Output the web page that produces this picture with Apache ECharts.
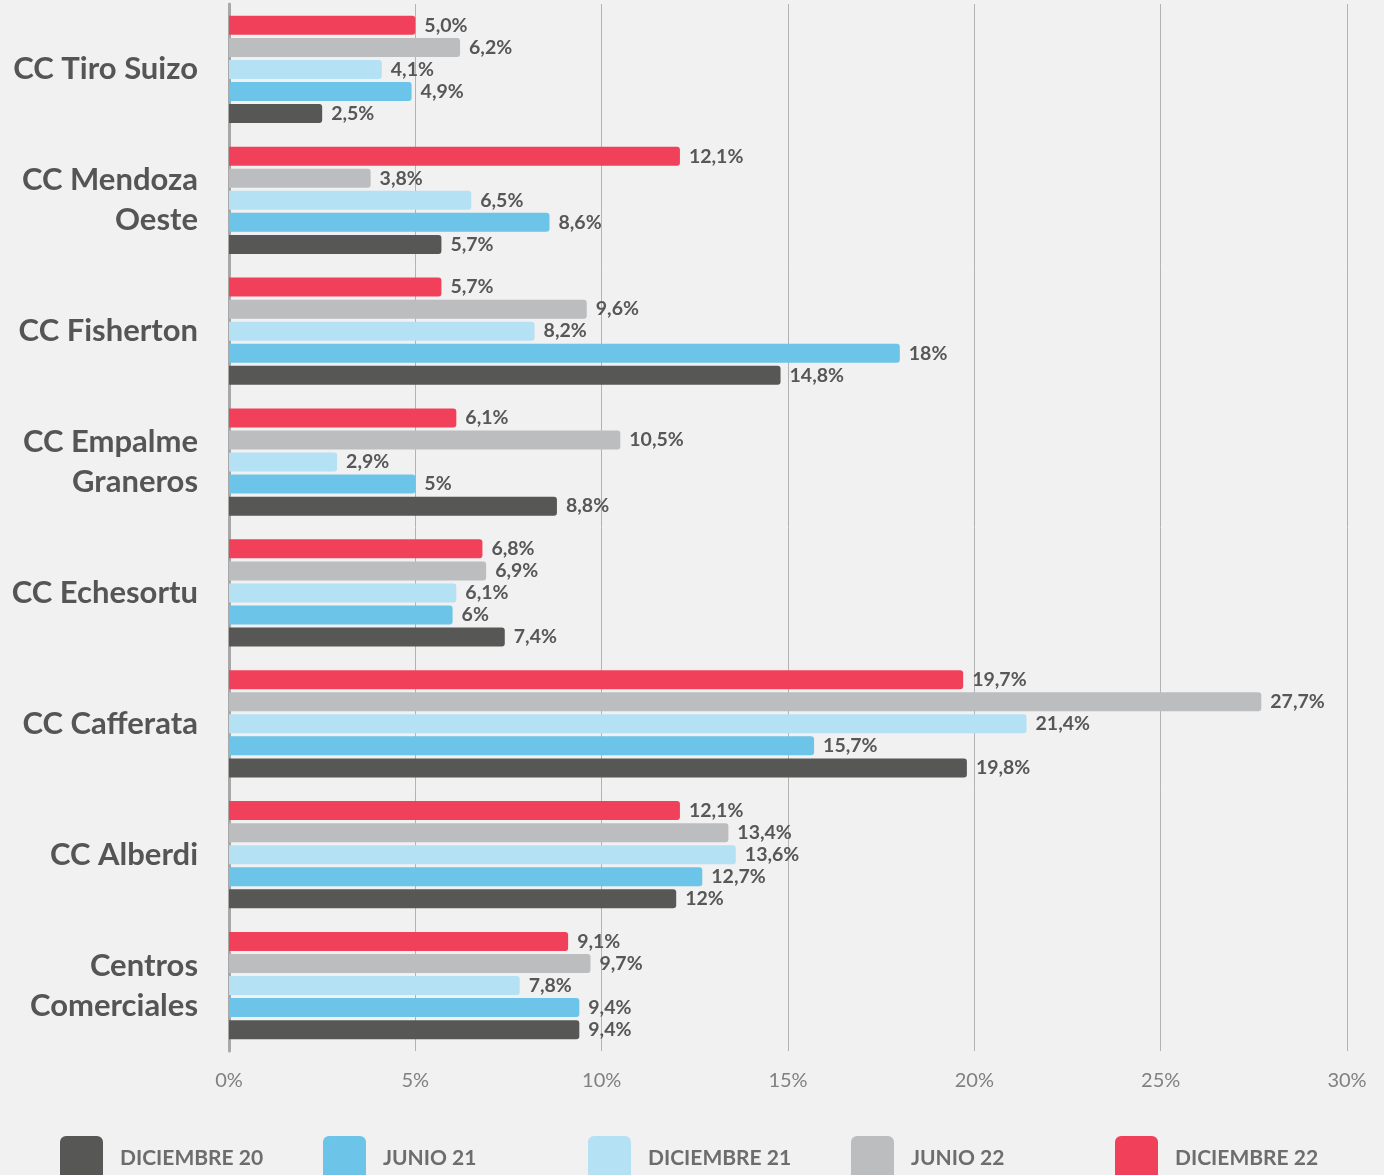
<!DOCTYPE html>
<html>
<head>
<meta charset="utf-8">
<script src="https://cdn.jsdelivr.net/npm/echarts@6/dist/echarts.min.js"></script>
<style>
  html, body { margin: 0; padding: 0; background: #f1f1f1; }
  #chart { width: 1384px; height: 1175px; }
</style>
</head>
<body>
<div id="chart"></div>
<script>
// Categories, top to bottom
const categories = [
  'CC Tiro Suizo',
  'CC Mendoza\nOeste',
  'CC Fisherton',
  'CC Empalme\nGraneros',
  'CC Echesortu',
  'CC Cafferata',
  'CC Alberdi',
  'Centros\nComerciales'
];

// Shares per period, written as printed (comma decimal)
const dic20 = ['2,5', '5,7', '14,8', '8,8', '7,4', '19,8', '12', '9,4'];
const jun21 = ['4,9', '8,6', '18', '5', '6', '15,7', '12,7', '9,4'];
const dic21 = ['4,1', '6,5', '8,2', '2,9', '6,1', '21,4', '13,6', '7,8'];
const jun22 = ['6,2', '3,8', '9,6', '10,5', '6,9', '27,7', '13,4', '9,7'];
const dic22 = ['5,0', '12,1', '5,7', '6,1', '6,8', '19,7', '12,1', '9,1'];

const periodNames = ['DICIEMBRE 20', 'JUNIO 21', 'DICIEMBRE 21', 'JUNIO 22', 'DICIEMBRE 22'];
const periodColors = ['#575756', '#6cc4e8', '#b5e1f4', '#bcbdbf', '#f0405a'];
const periodValues = [dic20, jun21, dic21, jun22, dic22];

const xTicks = [0, 5, 10, 15, 20, 25, 30];

const toNum = s => parseFloat(s.replace(',', '.'));

// Drawing order inside each group: most recent period on top
const drawOrder = [4, 3, 2, 1, 0];

const series = drawOrder.map(i => ({
  name: periodNames[i],
  type: 'bar',
  barWidth: 19,
  barGap: '16%',
  itemStyle: { color: periodColors[i], borderRadius: [0, 3, 3, 0] },
  label: {
    show: true,
    position: 'right',
    distance: 9,
    fontFamily: 'Lato',
    fontWeight: 'bold',
    fontSize: 19.5,
    color: '#575757',
    formatter: p => periodValues[i][p.dataIndex] + '%'
  },
  data: periodValues[i].map(toNum)
}));

// One legend block per period so the entries sit on an even pitch
const legendIcon = 'path://M6,0 H37 A6,6 0 0 1 43,6 V38 A6,6 0 0 1 37,44 H6 A6,6 0 0 1 0,38 V6 A6,6 0 0 1 6,0 Z';
const legendLefts = [55, 318, 583, 846, 1110];
const legends = periodNames.map((name, i) => ({
  data: [name],
  left: legendLefts[i],
  top: 1131,
  icon: legendIcon,
  itemWidth: 43,
  itemHeight: 44,
  selectedMode: false,
  textStyle: {
    fontFamily: 'Lato',
    fontWeight: 'bold',
    fontSize: 21,
    color: '#6d6d6d',
    padding: [0, 0, 0, 12]
  }
}));

const chart = echarts.init(document.getElementById('chart'), null, { renderer: 'canvas' });
chart.setOption({
  backgroundColor: '#f1f1f1',
  animation: false,
  grid: { left: 229, right: 37, top: 4, height: 1047 },
  legend: legends,
  xAxis: {
    type: 'value',
    min: 0,
    max: 30,
    interval: 5,
    axisLine: { show: false },
    axisTick: { show: false },
    splitLine: { show: true, lineStyle: { color: '#b3b3b3', width: 1 } },
    axisLabel: {
      margin: 20,
      fontFamily: 'Lato',
      fontSize: 20,
      color: '#808080',
      formatter: v => (xTicks.includes(v) ? v + '%' : '')
    }
  },
  yAxis: {
    type: 'category',
    inverse: true,
    data: categories,
    axisLine: { show: true, lineStyle: { color: '#a8a8a8', width: 3 } },
    axisTick: { show: false },
    axisLabel: {
      margin: 31,
      fontFamily: 'Lato',
      fontWeight: 'bold',
      fontSize: 31,
      lineHeight: 40,
      padding: [10, 0, 0, 0],
      color: '#555555',
      align: 'right'
    }
  },
  series: series
});
</script>
</body>
</html>
